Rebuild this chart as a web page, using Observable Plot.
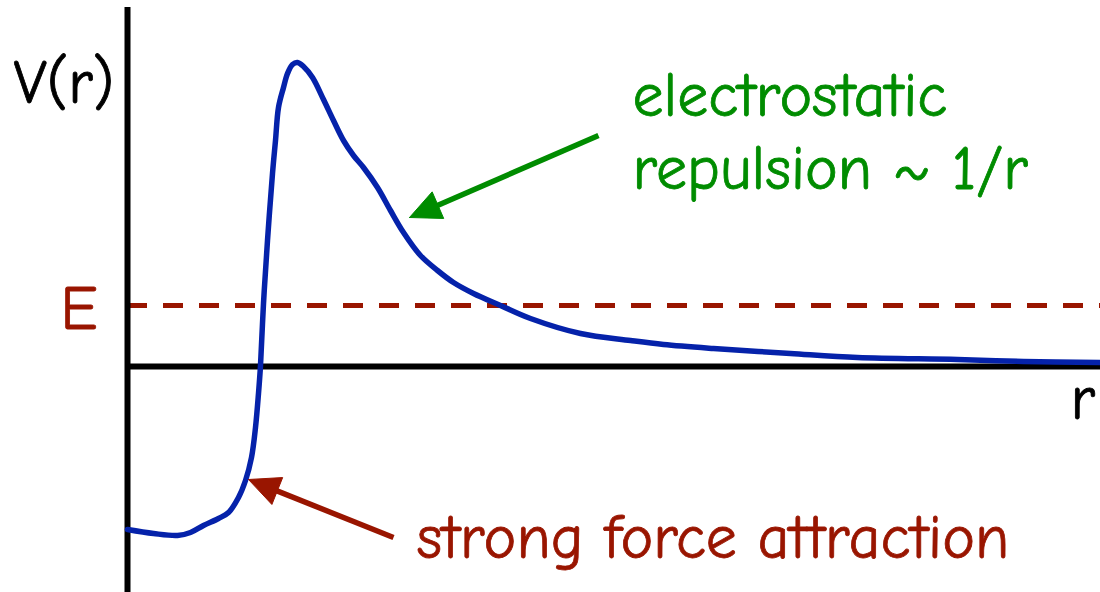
<!DOCTYPE html>
<html>
<head>
<meta charset="utf-8">
<script src="https://cdn.jsdelivr.net/npm/d3@7"></script>
<script src="https://cdn.jsdelivr.net/npm/@observablehq/plot@0.6"></script>
<style>
  html, body { margin: 0; padding: 0; background: #fff; }
</style>
</head>
<body>
<div id="chart"></div>
<script>
// Potential curve V(r) (arbitrary units)
const rValues = [0.00, 0.26, 0.50, 0.63, 0.76, 0.91, 1.01, 1.11, 1.18, 1.24, 1.28, 1.31, 1.33, 1.36, 1.40, 1.45, 1.48, 1.51, 1.56, 1.60, 1.65, 1.70, 1.76, 1.85, 1.96, 2.06, 2.16, 2.26, 2.36, 2.50, 2.63, 2.76, 2.93, 3.10, 3.26, 3.46, 3.73, 4.03, 4.53, 5.03, 5.36, 5.86, 6.63, 7.30, 8.30, 8.96, 9.73];
const vValues = [-1.63, -1.67, -1.69, -1.66, -1.59, -1.52, -1.46, -1.31, -1.14, -0.91, -0.61, -0.27, 0.01, 0.63, 1.26, 1.93, 2.26, 2.59, 2.79, 2.93, 3.02, 3.04, 3.00, 2.89, 2.67, 2.46, 2.26, 2.11, 1.99, 1.79, 1.56, 1.34, 1.11, 0.96, 0.84, 0.73, 0.61, 0.48, 0.33, 0.26, 0.22, 0.18, 0.13, 0.09, 0.07, 0.05, 0.04];

// Energy level
const energyLevel = [0.61];

// Annotation arrows: tail -> tip
const arrowNames = ["electrostatic", "strong"];
const arrowTailR = [4.71, 2.66];
const arrowTailV = [2.31, -1.71];
const arrowTipR = [2.82, 1.21];
const arrowTipV = [1.49, -1.13];

// Labels
const labelTexts = ["V(r)", "E", "r", "electrostatic", "repulsion ~ 1/r", "strong force attraction"];
const labelR = [-1.14, -0.67, 9.43, 5.05, 5.05, 2.89];
const labelV = [2.64, 0.38, -0.52, 2.51, 1.78, -1.91];
const labelKinds = ["axis", "energy", "axis", "electrostatic", "electrostatic", "strong"];

const colors = {axis: "#000000", energy: "#991500", electrostatic: "#008C00", strong: "#991500", curve: "#0522AA"};

const curve = rValues.map((r, i) => ({r, V: vValues[i]}));
const labels = labelTexts.map((text, i) => ({text, r: labelR[i], V: labelV[i], kind: labelKinds[i]}));

// Arrow shafts and filled heads (same pixel size per unit on both axes)
const headLen = 0.31, headHalf = 0.145;
const shafts = [], heads = [];
arrowNames.forEach((name, i) => {
  const x0 = arrowTailR[i], y0 = arrowTailV[i], x1 = arrowTipR[i], y1 = arrowTipV[i];
  const dx = x1 - x0, dy = y1 - y0, len = Math.hypot(dx, dy);
  const ux = dx / len, uy = dy / len;
  const bx = x1 - ux * headLen, by = y1 - uy * headLen;
  shafts.push({name, x1: x0, y1: y0, x2: bx + ux * 0.05, y2: by + uy * 0.05});
  heads.push({name, r: x1, V: y1});
  heads.push({name, r: bx - uy * headHalf, V: by + ux * headHalf});
  heads.push({name, r: bx + uy * headHalf, V: by - ux * headHalf});
  heads.push({name, r: x1, V: y1});
});

const font = "'Comic Sans MS', 'Comic Neue', 'DejaVu Sans', sans-serif";

const plot = Plot.plot({
  width: 1100,
  height: 592,
  marginLeft: 127,
  marginRight: 0,
  marginTop: 7,
  marginBottom: 0,
  x: {domain: [0, 9.73], axis: null},
  y: {domain: [-2.26, 3.59], axis: null},
  style: {background: "#ffffff", fontFamily: font},
  marks: [
    Plot.ruleY(energyLevel, {y: d => d, stroke: colors.energy, strokeWidth: 5, strokeDasharray: "20,16"}),
    Plot.ruleY([0], {stroke: colors.axis, strokeWidth: 6}),
    Plot.ruleX([0], {stroke: colors.axis, strokeWidth: 6}),
    Plot.line(curve, {x: "r", y: "V", stroke: colors.curve, strokeWidth: 5.5, curve: "catmull-rom", strokeLinejoin: "round"}),
    Plot.link(shafts, {x1: "x1", y1: "y1", x2: "x2", y2: "y2", stroke: d => colors[d.name], strokeWidth: 5.5}),
    Plot.line(heads, {x: "r", y: "V", z: "name", fill: d => colors[d.name], stroke: d => colors[d.name], strokeWidth: 1}),
    Plot.text(labels, {x: "r", y: "V", text: "text", fill: d => colors[d.kind], fontSize: 62, textAnchor: "start", lineAnchor: "bottom", fontFamily: font, stroke: d => colors[d.kind], strokeWidth: 0.8})
  ]
});

document.getElementById("chart").appendChild(plot);
</script>
</body>
</html>
